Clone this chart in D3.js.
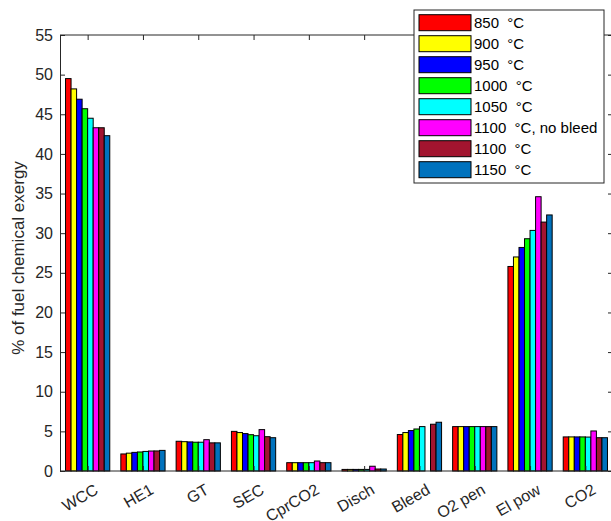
<!DOCTYPE html>
<html>
<head>
<meta charset="utf-8">
<script src="https://cdn.jsdelivr.net/npm/d3@7"></script>
<style>
    body { margin: 0; background: #fff; }
    svg { display: block; font-family: "Liberation Sans", Arial, sans-serif; }
</style>
</head>
<body>
<svg id="chart" width="611" height="521"></svg>
<script>
const categories = ["WCC", "HE1", "GT", "SEC", "CprCO2", "Disch", "Bleed", "O2 pen", "El pow", "CO2"];
const seriesNames = ["850 \u00a0\u00b0C", "900 \u00a0\u00b0C", "950 \u00a0\u00b0C", "1000 \u00a0\u00b0C",
    "1050 \u00a0\u00b0C", "1100 \u00a0\u00b0C, no bleed", "1100 \u00a0\u00b0C", "1150 \u00a0\u00b0C"];
const seriesColors = ["#ff0000", "#ffff00", "#0000ff", "#00ff00", "#00ffff", "#ff00ff", "#a2142f", "#0072bd"];

const t850 = [49.5, 2.15, 3.75, 5.0, 1.05, 0.2, 4.6, 5.6, 25.8, 4.3];
const t900 = [48.2, 2.25, 3.7, 4.85, 1.05, 0.2, 4.85, 5.6, 27.0, 4.3];
const t950 = [46.9, 2.35, 3.67, 4.72, 1.05, 0.2, 5.1, 5.6, 28.2, 4.3];
const t1000 = [45.7, 2.4, 3.63, 4.58, 1.05, 0.2, 5.3, 5.6, 29.3, 4.3];
const t1050 = [44.5, 2.47, 3.63, 4.45, 1.05, 0.2, 5.6, 5.6, 30.35, 4.28];
const t1100nb = [43.3, 2.52, 3.95, 5.22, 1.26, 0.6, null, 5.6, 34.6, 5.05];
const t1100 = [43.3, 2.53, 3.55, 4.33, 1.05, 0.25, 5.9, 5.6, 31.4, 4.2];
const t1150 = [42.3, 2.6, 3.55, 4.2, 1.05, 0.25, 6.15, 5.6, 32.3, 4.2];
const seriesValues = [t850, t900, t950, t1000, t1050, t1100nb, t1100, t1150];

const yTicks = [0, 5, 10, 15, 20, 25, 30, 35, 40, 45, 50, 55];

const svg = d3.select("#chart");
const axisColor = "#262626";
const plot = { left: 60, right: 613, top: 35, bottom: 471 };

const x = d3.scaleBand()
    .domain(categories)
    .range([plot.left, plot.right])
    .paddingInner(0.2)
    .paddingOuter(0.1);

const xInner = d3.scaleBand()
    .domain(d3.range(seriesNames.length))
    .range([0, x.bandwidth()])
    .padding(0);

const y = d3.scaleLinear()
    .domain([0, 55])
    .range([plot.bottom, plot.top]);

// bars
const groups = svg.append("g")
    .selectAll("g")
    .data(categories)
    .join("g")
    .attr("transform", function(d) { return "translate(" + x(d) + ",0)"; });

groups.selectAll("rect")
    .data(function(d, i) {
        return seriesValues.map(function(vals, s) { return { s: s, v: vals[i] }; })
            .filter(function(e) { return e.v !== null; });
    })
    .join("rect")
    .attr("x", function(d) { return xInner(d.s); })
    .attr("width", xInner.bandwidth())
    .attr("y", function(d) { return y(d.v); })
    .attr("height", function(d) { return y(0) - y(d.v); })
    .attr("fill", function(d) { return seriesColors[d.s]; })
    .attr("stroke", "#000")
    .attr("stroke-width", 1);

// axes box
const tickLen = 5;
const centers = categories.map(function(c) { return x(c) + x.bandwidth() / 2; });

svg.append("g")
    .attr("transform", "translate(" + plot.left + ",0)")
    .call(d3.axisLeft(y).tickValues(yTicks).tickSize(-tickLen).tickPadding(7))
    .call(function(g) {
        g.select(".domain").attr("stroke", axisColor);
        g.selectAll(".tick line").attr("stroke", axisColor);
        g.selectAll("text").attr("fill", axisColor).attr("font-size", 16);
    });

svg.append("g")
    .attr("transform", "translate(" + plot.right + ",0)")
    .call(d3.axisRight(y).tickValues(yTicks).tickSize(-tickLen).tickFormat(""))
    .call(function(g) {
        g.select(".domain").attr("stroke", axisColor);
        g.selectAll(".tick line").attr("stroke", axisColor);
    });

const xAxisScale = d3.scaleOrdinal().domain(categories).range(centers);

svg.append("g")
    .attr("transform", "translate(0," + plot.top + ")")
    .call(d3.axisTop(xAxisScale).tickSize(-tickLen).tickFormat(""))
    .call(function(g) {
        g.select(".domain").attr("d", "M" + plot.left + ",0H" + plot.right).attr("stroke", axisColor);
        g.selectAll(".tick line").attr("stroke", axisColor);
    });

svg.append("g")
    .attr("transform", "translate(0," + plot.bottom + ")")
    .call(d3.axisBottom(xAxisScale).tickSize(-tickLen).tickFormat(""))
    .call(function(g) {
        g.select(".domain").attr("d", "M" + plot.left + ",0H" + plot.right).attr("stroke", axisColor);
        g.selectAll(".tick line").attr("stroke", axisColor);
    });

// rotated category labels
svg.append("g")
    .selectAll("text")
    .data(categories)
    .join("text")
    .attr("transform", function(d, i) {
        return "translate(" + (centers[i] + 6) + "," + (plot.bottom + 12) + ") rotate(-30)";
    })
    .attr("text-anchor", "end")
    .attr("dy", "0.71em")
    .attr("font-size", 16)
    .attr("fill", axisColor)
    .text(function(d) { return d; });

svg.append("text")
    .attr("transform", "translate(24,258) rotate(-90)")
    .attr("text-anchor", "middle")
    .attr("font-size", 17)
    .attr("fill", axisColor)
    .text("% of fuel chemical exergy");

// legend
const legend = svg.append("g").attr("transform", "translate(414,10)");

legend.append("rect")
    .attr("width", 190)
    .attr("height", 173)
    .attr("fill", "#fff")
    .attr("stroke", axisColor)
    .attr("stroke-width", 1);

const rows = legend.selectAll("g")
    .data(seriesNames)
    .join("g")
    .attr("transform", function(d, i) { return "translate(0," + (12.7 + i * 21) + ")"; });

rows.append("rect")
    .attr("x", 5)
    .attr("y", -8)
    .attr("width", 52)
    .attr("height", 16)
    .attr("fill", function(d, i) { return seriesColors[i]; })
    .attr("stroke", "#000")
    .attr("stroke-width", 1);

rows.append("text")
    .attr("x", 60)
    .attr("dy", "0.35em")
    .attr("font-size", 15)
    .attr("fill", "#000")
    .text(function(d) { return d; });
</script>
</body>
</html>
